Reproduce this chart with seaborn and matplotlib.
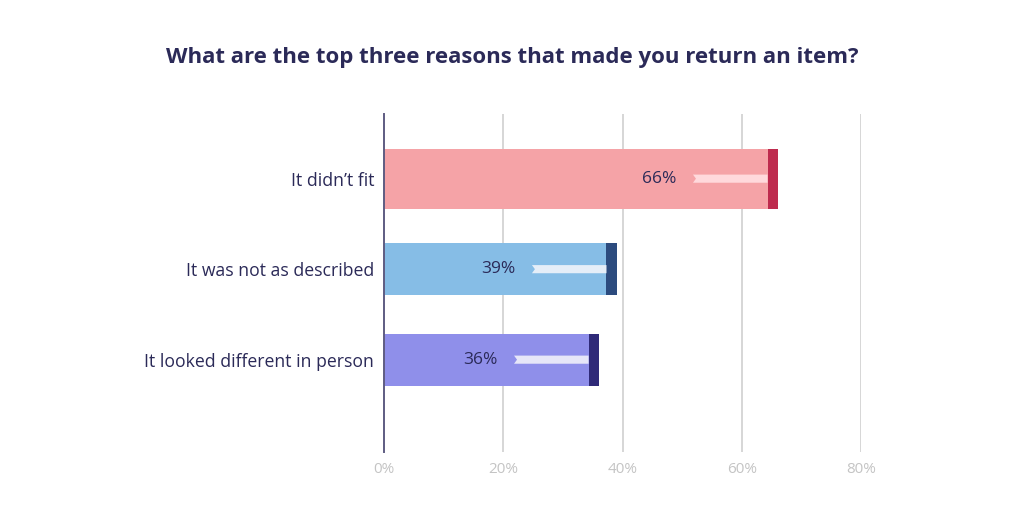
import matplotlib
matplotlib.use("Agg")
import matplotlib.pyplot as plt
import seaborn as sns
import pandas as pd
from matplotlib.patches import Polygon

categories = ["It didn\u2019t fit", "It was not as described", "It looked different in person"]
values = [66, 39, 36]
x_ticks = [0, 20, 40, 60, 80]
x_tick_labels = ["0%", "20%", "40%", "60%", "80%"]
title = "What are the top three reasons that made you return an item?"

bar_colors = ["#F5A3A7", "#86BDE6", "#8F8FEA"]
cap_colors = ["#BE2B4E", "#2C4B7E", "#2F2A78"]
stripe_colors = ["#FFD9DC", "#E5EEF8", "#E6E6F8"]
bar_heights = [0.66, 0.575, 0.575]
text_color = "#2B2A58"

sns.set_theme(style="white")
plt.rcParams["font.family"] = ["Open Sans", "DejaVu Sans"]

fig = plt.figure(figsize=(10.24, 5.05), dpi=100)
ax = fig.add_axes([0.375, 0.105, 0.466, 0.669])

df = pd.DataFrame({"category": categories, "value": values})
for i, (cat, h) in enumerate(zip(categories, bar_heights)):
    sub = df[df["category"] == cat]
    sns.barplot(data=sub, x="value", y="category", order=categories, orient="h",
                color=bar_colors[i], width=h, ax=ax, saturation=1, errorbar=None,
                linewidth=0)

cap_w = 1.7
stripe_len = 12.5
stripe_h = 0.09
for i, v in enumerate(values):
    h = bar_heights[i]
    ax.barh(i, cap_w, left=v - cap_w, height=h, color=cap_colors[i], linewidth=0, zorder=3)
    x0 = v - cap_w - stripe_len
    x1 = v - cap_w
    notch = 0.5
    poly = Polygon([(x0, i - stripe_h / 2), (x1, i - stripe_h / 2), (x1, i + stripe_h / 2),
                    (x0, i + stripe_h / 2), (x0 + notch, i)], closed=True,
                   facecolor=stripe_colors[i], edgecolor="none", zorder=3)
    ax.add_patch(poly)
    ax.text(v - 19.8, i, f"{v}%", ha="center", va="center", fontsize=12.5,
            color=text_color, zorder=4)

ax.set_xlim(0, 80)
ax.set_ylim(3.02, -0.713)
ax.set_xticks(x_ticks)
ax.set_xticklabels(x_tick_labels, color="#C4C4C4", fontsize=11)
ax.tick_params(axis="x", length=0, pad=7)
ax.tick_params(axis="y", length=0, pad=7, labelsize=12.7, labelcolor=text_color)
ax.set_xlabel("")
ax.set_ylabel("")
for t in x_ticks[1:]:
    ax.axvline(t, color="#D6D6D6", linewidth=1.4, zorder=0)
for s in ["top", "right", "bottom"]:
    ax.spines[s].set_visible(False)
ax.spines["left"].set_color("#5E5C82")
ax.spines["left"].set_linewidth(1.4)
ax.grid(False)

fig.text(0.5, 0.887, title, ha="center", va="center", fontsize=16,
         fontweight="bold", color=text_color)

fig.savefig("out.png", dpi=100, facecolor="white")
